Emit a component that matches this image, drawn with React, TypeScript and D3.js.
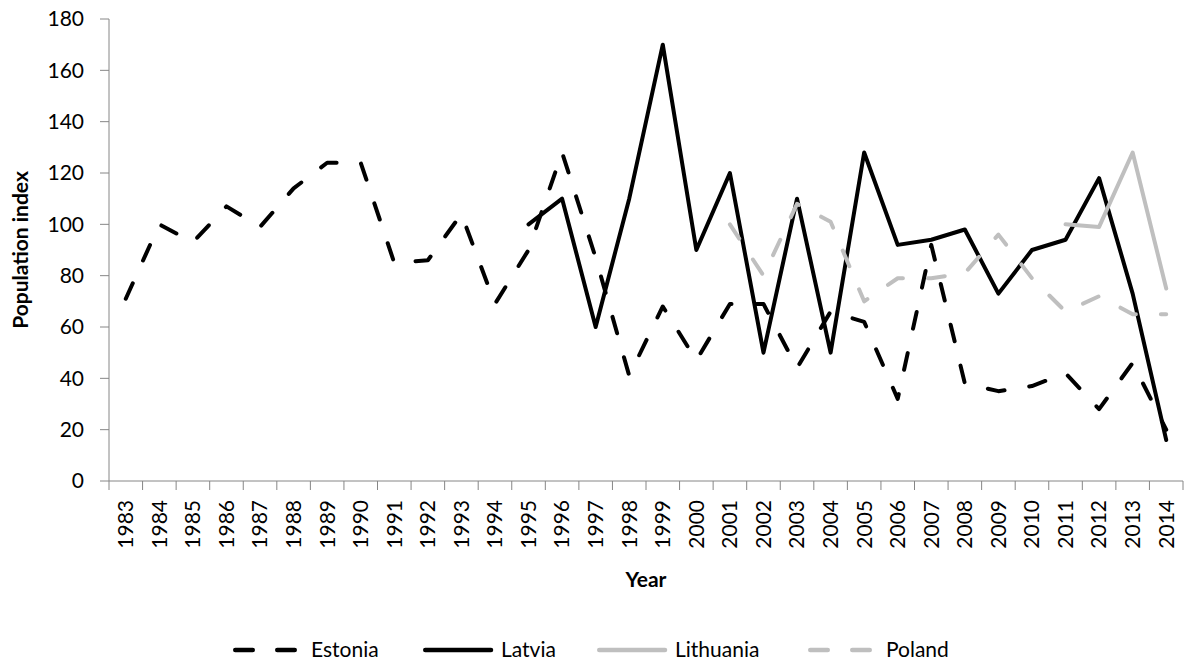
import * as d3 from 'd3';

const WIDTH = 1187;
const HEIGHT = 666;
const PLOT = { left: 109, right: 1183, top: 19, bottom: 481 };

const years = d3.range(1983, 2015).map(String);

// population index per year (null = no data)
const estonia = [71, 100, 93, 107, 99, 114, 124, 124, 85, 86, 104, 69, 90, 128, 87, 41, 68, 47, 69, 69, 44, 66, 62, 32, 92, 38, 35, 37, 42, 28, 46, 20];
const latvia = [null, null, null, null, null, null, null, null, null, null, null, null, 100, 110, 60, 110, 170, 90, 120, 50, 110, 50, 128, 92, 94, 98, 73, 90, 94, 118, 73, 16];
const lithuania = [null, null, null, null, null, null, null, null, null, null, null, null, null, null, null, null, null, null, null, null, null, null, null, null, null, null, null, null, 100, 99, 128, 75];
const poland = [null, null, null, null, null, null, null, null, null, null, null, null, null, null, null, null, null, null, 100, 80, 108, 101, 70, 79, 79, 81, 96, 79, 66, 72, 65, 65];

const yTicks = [0, 20, 40, 60, 80, 100, 120, 140, 160, 180];

const seriesList = [
  { name: 'Estonia', values: estonia, color: '#000000', dashed: true },
  { name: 'Latvia', values: latvia, color: '#000000', dashed: false },
  { name: 'Lithuania', values: lithuania, color: '#bfbfbf', dashed: false },
  { name: 'Poland', values: poland, color: '#bfbfbf', dashed: true },
];

// legend item left edges
const legendX = [233, 423, 597, 808];

const FONT = 'Lato, "Open Sans", sans-serif';
const AXIS_COLOR = '#868686';
const DASH = '17 25';

const App = () => {
  const xScale = d3.scaleBand().domain(years).range([PLOT.left, PLOT.right]).paddingInner(0).paddingOuter(0);
  const yScale = d3.scaleLinear().domain([0, 180]).range([PLOT.bottom, PLOT.top]);
  const bw = xScale.bandwidth();

  const lineGen = d3
    .line<number | null>()
    .defined((d) => d != null)
    .x((_, i) => (xScale(years[i]) ?? 0) + bw / 2)
    .y((d) => yScale(d as number));

  // tick boundaries between categories
  const xBounds = years.map((y) => xScale(y) ?? 0).concat([PLOT.right]);

  return (
    <svg width={WIDTH} height={HEIGHT} style={{ position: 'absolute', left: 0, top: 0, background: '#fff' }} fontFamily={FONT}>
      {/* y axis */}
      <line x1={PLOT.left} x2={PLOT.left} y1={PLOT.top} y2={PLOT.bottom} stroke={AXIS_COLOR} strokeWidth={1} />
      {yTicks.map((t) => (
        <g key={t}>
          <line x1={PLOT.left - 9} x2={PLOT.left} y1={yScale(t)} y2={yScale(t)} stroke={AXIS_COLOR} strokeWidth={1} />
          <text x={84} y={yScale(t)} dy="0.35em" textAnchor="end" fontSize={21} fill="#000">
            {t}
          </text>
        </g>
      ))}

      {/* x axis */}
      <line x1={PLOT.left} x2={PLOT.right} y1={PLOT.bottom} y2={PLOT.bottom} stroke={AXIS_COLOR} strokeWidth={1} />
      {xBounds.map((bx, i) => (
        <line key={i} x1={bx} x2={bx} y1={PLOT.bottom} y2={PLOT.bottom + 9} stroke={AXIS_COLOR} strokeWidth={1} />
      ))}
      {years.map((yr) => (
        <text
          key={yr}
          transform={`translate(${(xScale(yr) ?? 0) + bw / 2},500) rotate(-90)`}
          dy="0.35em"
          textAnchor="end"
          fontSize={21}
          fill="#000"
        >
          {yr}
        </text>
      ))}

      {/* axis titles */}
      <text x={(PLOT.left + PLOT.right) / 2} y={587} textAnchor="middle" fontSize={21} fontWeight="bold">
        Year
      </text>
      <text transform={`translate(28,${(PLOT.top + PLOT.bottom) / 2}) rotate(-90)`} textAnchor="middle" fontSize={21} fontWeight="bold">
        Population index
      </text>

      {/* series */}
      {seriesList.map((s) => (
        <path
          key={s.name}
          d={lineGen(s.values) ?? ''}
          fill="none"
          stroke={s.color}
          strokeWidth={4}
          strokeLinejoin="round"
          strokeLinecap="round"
          strokeDasharray={s.dashed ? DASH : undefined}
        />
      ))}

      {/* legend */}
      {seriesList.map((s, i) => (
        <g key={s.name} transform={`translate(${legendX[i]},650)`}>
          <line
            x1={2.25}
            x2={s.dashed ? 62 : 68}
            y1={0}
            y2={0}
            stroke={s.color}
            strokeWidth={4.5}
            strokeLinecap="round"
            strokeDasharray={s.dashed ? '17.5 24.5' : undefined}
          />
          <text x={78} y={0} dy="0.35em" fontSize={21} fill="#000">
            {s.name}
          </text>
        </g>
      ))}
    </svg>
  );
};

export default App;
